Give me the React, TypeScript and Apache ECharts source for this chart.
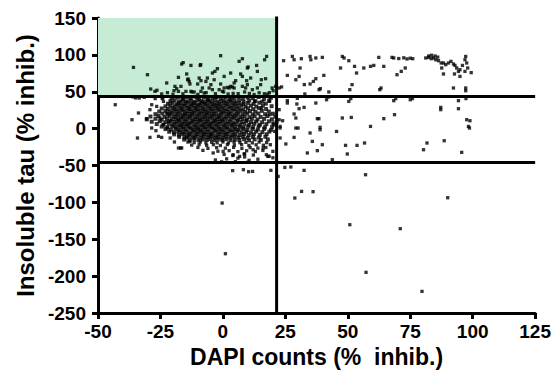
import React, { useEffect, useRef } from "react";
import * as echarts from "echarts";

// Axis ranges and tick settings
const xMin = -50;
const xMax = 125;
const xStep = 25;
const yMin = -250;
const yMax = 150;
const yStep = 50;

// Gate thresholds
const tauHigh = 44;
const tauLow = -46;
const dapiCut = 21.5;
const boxTop = 152;

const xName = "DAPI counts (%  inhib.)";
const yName = "Insoluble tau (% inhib.)";

// Dense cluster of compounds near zero
const coreCluster: number[][] = [
  [-20.5,41.2],[-18,42.5],[-16.2,40.1],[-14.5,42.8],[-12.8,41],[-11,43.2],[-9.5,40.4],[-7.6,42],[-6,39.8],[-4.2,41.7],[-2.5,43],[-0.8,40.6],[1,42.4],[2.7,40],[4.4,41.9],[6.2,43.1],[8,40.5],[9.9,42.2],[12,41],[14.3,42.9],[16.5,40.3],[19.2,41.8],
  [-21,37.2],[-19.3,38.6],[-17.6,36.8],[-16,38.9],[-14.7,37],[-13.1,38.2],[-11.6,36.5],[-10.2,38.7],[-8.7,37.4],[-7.3,36.2],[-5.9,38.5],[-4.4,37],[-3,38.8],[-1.5,36.6],[0.1,38],[1.6,36.9],[3.2,38.6],[4.8,37.1],[6.5,38.3],[8.3,36.4],[10.5,38],[13,37.3],[15.8,36.5],[18.5,38.2],
  [-22,33.8],[-20.2,35],[-18.6,33.2],[-17.1,34.7],[-15.6,33.5],[-14.2,35.1],[-12.8,33.4],[-11.3,34.6],[-9.9,33],[-8.4,34.9],[-7,33.6],[-5.5,35.2],[-4.1,33.3],[-2.6,34.5],[-1.2,33.1],[0.3,34.8],[1.8,33.5],[3.3,35],[4.9,33.7],[6.4,34.4],[8.2,33.2],[10,34.9],[12.3,33.6],[14.6,35.1],[17.2,33.9],
  [-23,30.2],[-21.1,31.4],[-19.4,30],[-17.9,31.6],[-16.4,30.3],[-15,31.1],[-13.5,29.8],[-12.1,31.5],[-10.6,30.4],[-9.2,31.8],[-7.8,29.9],[-6.3,31.2],[-4.9,30.1],[-3.4,31.7],[-2,30.5],[-0.5,29.7],[1,31.3],[2.5,30],[4.1,31.6],[5.6,30.2],[7.3,31.4],[9.1,30],[11.2,31.2],[13.4,29.9],[16,31.1],[19.5,30.4],
  [-24.5,27.3],[-22,26.6],[-20.3,27.9],[-18.7,26.4],[-17.2,27.6],[-15.8,26.2],[-14.3,27.8],[-12.9,26.7],[-11.4,28],[-10,26.5],[-8.6,27.4],[-7.1,26.1],[-5.7,27.7],[-4.2,26.8],[-2.8,28.1],[-1.3,26.3],[0.2,27.5],[1.7,26.2],[3.3,27.9],[4.8,26.6],[6.4,27.3],[8.1,26],[10,27.6],[12.1,26.4],[14.5,27.8],[17.3,26.5],
  [-25.5,23.2],[-23,24.1],[-21.2,22.8],[-19.6,24.3],[-18.1,23],[-16.6,24.6],[-15.2,22.7],[-13.7,24],[-12.3,23.1],[-10.8,24.5],[-9.4,22.9],[-7.9,23.8],[-6.5,22.6],[-5,24.2],[-3.6,23.3],[-2.1,24.7],[-0.7,22.8],[0.8,23.9],[2.4,22.6],[3.9,24.4],[5.5,23],[7.1,24.3],[8.9,22.7],[10.8,23.8],[13,22.9],[15.6,24.1],[18.4,23.2],
  [-27,19.6],[-24.2,20.5],[-22,19.3],[-20.4,20.8],[-18.9,19.5],[-17.4,20.6],[-16,19.1],[-14.5,20.3],[-13.1,19.7],[-11.6,21],[-10.2,19.4],[-8.7,20.5],[-7.3,19.2],[-5.8,20.9],[-4.4,19.6],[-2.9,20.4],[-1.5,19],[0,20.7],[1.5,19.5],[3.1,20.2],[4.6,19.1],[6.2,20.8],[7.9,19.4],[9.8,20.6],[11.9,19.3],[14.2,20.5],[16.9,19.6],[20,20.2],
  [-29,16.4],[-25.8,17.1],[-23.4,16],[-21.3,17.3],[-19.7,15.9],[-18.2,16.8],[-16.8,15.6],[-15.3,17.2],[-13.9,16.1],[-12.4,17.5],[-11,15.8],[-9.5,16.9],[-8.1,15.5],[-6.6,17],[-5.2,16.2],[-3.7,17.4],[-2.3,15.7],[-0.8,16.6],[0.7,15.4],[2.3,17.1],[3.8,16],[5.4,17.3],[7,15.8],[8.7,16.7],[10.6,15.5],[12.7,16.9],[15.1,15.9],[17.8,17],[21,16.2],
  [-30.5,12.6],[-27,13.4],[-24.5,12.2],[-22.4,13.7],[-20.6,12.5],[-19,13.3],[-17.6,12],[-16.1,13.6],[-14.7,12.4],[-13.2,13.9],[-11.8,12.3],[-10.3,13.1],[-8.9,11.9],[-7.4,13.5],[-6,12.7],[-4.5,13.8],[-3.1,12.1],[-1.6,13.2],[-0.1,12],[1.4,13.6],[3,12.5],[4.5,13.9],[6.1,12.2],[7.8,13.3],[9.6,12],[11.6,13.5],[13.9,12.4],[16.5,13.2],[19.6,12.7],
  [-28.5,9.3],[-25.3,10],[-23,8.8],[-21,10.2],[-19.4,9],[-17.9,10.4],[-16.4,8.7],[-15,9.9],[-13.5,8.6],[-12.1,10.1],[-10.6,9.2],[-9.2,10.5],[-7.7,8.9],[-6.3,9.8],[-4.8,8.5],[-3.4,10.3],[-1.9,9.1],[-0.4,10],[1.1,8.7],[2.7,9.6],[4.2,8.4],[5.8,10.2],[7.5,9],[9.3,10.4],[11.2,8.8],[13.3,9.7],[15.7,8.6],[18.4,9.9],[21.5,9.1],
  [-26.5,6.2],[-23.8,5.5],[-21.6,6.7],[-19.9,5.3],[-18.4,6.5],[-16.9,5.1],[-15.5,6.3],[-14,5.6],[-12.6,6.9],[-11.1,5.2],[-9.7,6.1],[-8.2,5],[-6.8,6.6],[-5.3,5.4],[-3.9,6.8],[-2.4,5.7],[-1,6.4],[0.6,5.1],[2.1,6.7],[3.7,5.5],[5.2,6.3],[6.9,5],[8.6,6.5],[10.5,5.3],[12.5,6.6],[14.8,5.2],[17.4,6.1],[20.5,5.6],
  [-24.5,2.8],[-22.2,2],[-20.3,3.2],[-18.7,1.8],[-17.2,3],[-15.8,2.3],[-14.3,3.4],[-12.9,1.7],[-11.4,2.6],[-10,1.5],[-8.5,3.1],[-7.1,2.2],[-5.6,3.3],[-4.2,1.9],[-2.7,2.9],[-1.3,1.6],[0.3,3],[1.8,2.1],[3.4,3.3],[4.9,1.8],[6.6,2.7],[8.3,1.5],[10.1,3],[12.1,2],[14.3,3.2],[16.8,1.9],[19.7,2.6],
  [-23,-0.6],[-20.8,-1.5],[-19,-0.3],[-17.4,-1.7],[-15.9,-0.5],[-14.5,-1.3],[-13,0],[-11.6,-1.6],[-10.1,-0.7],[-8.7,-1.9],[-7.2,-0.4],[-5.8,-1.2],[-4.3,-0.1],[-2.9,-1.8],[-1.4,-0.6],[0.1,-1.4],[1.6,-0.2],[3.2,-1.7],[4.7,-0.8],[6.3,-1.5],[8,-0.3],[9.8,-1.8],[11.8,-0.5],[14,-1.2],[16.5,-0.4],[19.3,-1.6],
  [-21.5,-4.2],[-19.6,-5],[-17.9,-3.8],[-16.4,-5.3],[-14.9,-4.1],[-13.5,-5.5],[-12,-3.9],[-10.6,-4.8],[-9.1,-3.6],[-7.7,-5.2],[-6.2,-4.4],[-4.8,-5.6],[-3.3,-3.7],[-1.9,-4.9],[-0.4,-4],[1.1,-5.4],[2.7,-3.8],[4.2,-4.7],[5.8,-3.5],[7.5,-5.1],[9.3,-4.2],[11.2,-5.5],[13.3,-3.9],[15.8,-4.8],[18.6,-4.1],
  [-19.5,-7.8],[-17.6,-8.5],[-15.9,-7.4],[-14.4,-8.8],[-12.9,-7.6],[-11.4,-9],[-10,-7.3],[-8.5,-8.3],[-7.1,-7.1],[-5.6,-8.7],[-4.2,-7.7],[-2.7,-9.1],[-1.2,-7.5],[0.3,-8.4],[1.8,-7.2],[3.4,-8.9],[4.9,-7.9],[6.6,-8.6],[8.4,-7.4],[10.3,-8.8],[12.4,-7.7],[14.8,-8.4],[17.5,-7.6],
  [-17.5,-11.2],[-15.4,-12],[-13.6,-10.9],[-12,-12.3],[-10.5,-11],[-9,-12.6],[-7.6,-10.8],[-6.1,-11.9],[-4.7,-10.6],[-3.2,-12.2],[-1.7,-11.3],[-0.2,-12.5],[1.3,-10.9],[2.9,-11.8],[4.5,-10.7],[6.2,-12.1],[8,-11],[9.9,-12.4],[12,-11.4],[14.4,-12],[17,-11.1],
  [-15.5,-14.8],[-13.3,-15.6],[-11.4,-14.5],[-9.7,-15.9],[-8,-14.7],[-6.4,-15.3],[-4.9,-14.2],[-3.3,-15.8],[-1.8,-14.6],[-0.2,-15.4],[1.4,-14.3],[3.1,-15.7],[4.8,-14.9],[6.6,-15.5],[8.5,-14.4],[10.5,-15.8],[12.7,-14.7],[15.2,-15.3],[18,-14.6]
];

// Sparser fringe below and left of the cluster
const clusterFringe: number[][] = [
  [-24,42],[-27.5,43.5],[-31.5,42.5],[-33.5,41.5],[-36,43],
  [-14,-18.2],[-11.5,-19],[-9,-18],[-6.8,-19.4],[-4.5,-18.5],[-2.3,-19.2],[0,-18.1],[2.2,-19.5],[4.5,-18.3],[6.8,-19.1],[9.2,-18.6],[11.8,-19.3],[14.5,-18.2],[17.5,-19],
  [-12.5,-22.3],[-9.5,-21.5],[-6.5,-22.6],[-3.8,-21.8],[-1,-22.9],[1.8,-21.6],[4.6,-22.4],[7.5,-21.7],[10.4,-22.8],[13.3,-21.9],[16.2,-22.5],[19,-21.8],
  [-16.5,-26.2],[-10,-25.5],[-6,-26.8],[-2.5,-25.8],[1,-26.5],[4.3,-25.4],[7.6,-26.9],[10.9,-25.7],[14,-26.4],[17.2,-25.6],
  [-8,-29.5],[-2,-30.6],[2.5,-29.8],[6,-31.2],[9.5,-30],[13,-31],[16,-29.6],[20,-30.8],
  [0.5,-35],[4,-36.5],[8.5,-34.2],[12.2,-35.8],[18.5,-37.4],[-3.9,-33],[0.1,-30.9],[4.1,-35.4],[6.7,-37.7],[8.7,-34.4],[12.1,-28.6],[16.1,-26.3],[17.4,-35.4],[18,-37.7],
  [-3,-42.5],[1.5,-41],[6,-40],[10.5,-43],[14,-41.5],[20,-39.5],[8.7,-38.4],[-0.5,-45],[5,-44.8],[10,-45.5],
  [-17.8,-26.3],[-14.5,-12.7],[-13.2,-17.3],[18.7,18.9],[20,7.6],[20.7,-3.8],[12.7,36.9],[15.4,27.9],[18.7,36.9]
];

const leftTail: number[][] = [
  [-43.1,32.4],[-36.4,12.1],[-33.8,21.2],[-34.2,-12.7],[-29.2,25.7],[-30.5,13.5],[-28.5,0.8],[-26.8,-2.8],[-29.2,-11.9],
  [-25.8,-10.5],[-24.5,-11.9],[-28.5,32.4],[-26.5,30.1],[-23.8,36.9],[-25.2,14.4],[-23.8,5.3],[-22.5,21.2],[-21.8,9.8],[-22.2,0.8],
  [-34.9,41.6],[-27.1,40.7],[-24.3,40.7],[-21.1,-12.7],[-19.4,-18.1],[-16.9,-26.2]
];

// Hits inside the highlighted gate (upper left)
const gateHits: number[][] = [
  [-35.8,83],[-30.2,73.1],[-28.9,53.7],[-27.2,50.5],[-22.5,61.9],[-17.8,69.5],[-16.5,87.6],[-14.5,74.1],[-13.9,67.3],
  [-19.2,57.3],[-18.5,54.1],[-19.6,51.4],[-17.8,50.5],[-16.8,57.3],[-14.8,50.5],[-13.2,60.5],
  [-0.9,98.9],[6.5,91.2],[7.8,94.8],[17.5,97.9],[16.7,93.4],[-12.8,85.7],[-9.1,85.7],[-2.2,81.3],[-3.2,77.6],[-4.2,75.4],
  [9.8,82.2],[13.5,85.7],[13.8,77.6],[3.1,75.4],[7.1,74.1],[7.8,70.8],[0.5,70.8],[-6.2,68.6],[-6.8,64],[-3.5,66.3],
  [-9.5,68.6],[-8.8,65],[-10.1,60.5],[-14.1,66.3],[-13.5,64],[11.1,68.6],[9.5,65],[17.1,67.7],[15.4,66.3],[4.5,61.9],[5.1,65],
  [-0.9,60.5],[3.1,57.3],[4.5,55.1],[2.5,55.1],[1.8,55.9],[3.8,56.4],[-4.8,59.6],[-5.5,55.1],[-4.2,52.8],[-8.2,55.1],[-8.8,50.5],[-7.5,48.3],
  [-1.5,52.8],[-0.2,50.5],[0.5,55.1],[7.8,57.3],[9.1,55.1],[9.8,59.6],[11.8,52.8],[15.1,59.6],[13.8,55.1],[19.7,55.1],[21.1,57.3],[20.1,51.4],
  [-12.8,50.5],[-11.5,49.7],[6.1,47.5],[4.1,47.8],[2.1,47],[10.6,47.6],[16.6,47.3],[17.9,46.8],[-22.2,48.8],[-12.4,49.7],[-6.7,48.8],
  [0.3,49.7],[8.7,49.7],[18.6,48.8],[-24.5,47],[-20,46.5],[-16,47.2],[-10,46.4],[-3,47.4],[12.5,46.2],[14.5,48.6],[-26.4,52],[-15.9,89.5],[-8.9,86.8],[10.1,83.6]
];

// Compounds that inhibit DAPI counts above the cut
const upperRight: number[][] = [
  [24.3,92.1],[27.8,97.9],[28.5,93.4],[31.4,94.8],[34.9,97.9],[35.2,93.4],[37.2,95.8],[39.8,96.6],[30.9,82.2],[25.8,72.2],
  [29.2,66.3],[30.5,70.8],[34.9,60.5],[36.2,64],[37.2,67.7],[40.4,72.2],[38.5,52.8],[32.8,47],[22.5,55.1],[23.5,56.5],
  [47.8,97.9],[48.5,95.8],[50.4,92.1],[47.1,82.2],[52.7,84.4],[53.5,75.4],[56.4,82.2],[59.1,84.4],[60.4,85.7],[62.4,96.6],
  [64.4,84.4],[67.7,96.6],[51.7,59.6],[50.8,52.8],[62.8,52.8],[42.4,49.7],[39,54.2],[32.6,59.7],
  [68.4,95.8],[70.4,95],[72.4,96],[73.7,94.5],[75,95.5],[76,94.8],[73,82.2],[71.4,77.6],[69.7,73.1],
  [81.2,95.8],[82.3,96.6],[83.4,94.8],[84.3,95.8],[85.2,93.4],[86.3,92.1],[87.4,89],[88.3,89],[89.2,86.7],[90.3,89],
  [91.3,91.2],[92.3,87.6],[92.9,85.7],[93.6,82.2],[94.3,77.6],[94.9,79.9],[95.9,85.7],[96.9,93.4],[97.2,97.9],[97.6,89],
  [98,82.2],[96.9,77.6],[87.6,82.2],[88.3,74.1],[92.7,74.1],[94.9,70.8],[92.3,55.1],[97.2,55.1],[97.2,51.4],
  [82.4,98.5],[84.9,98.5],[86,97],[83.5,99.5],[63.3,55.1],[99.4,75.9]
];

const middleRight: number[][] = [
  [25.8,34.7],[29.6,33.4],[30.5,27],[32.5,28.8],[28.5,19.8],[29.2,14.4],[37.2,34.7],[41.5,39.2],[50.4,36.9],[68.4,37.9],
  [75,39.2],[94.3,37.9],[87.2,28.8],[87.2,25.7],[94.3,27],[37.8,13.5],[38.4,13.5],[38.9,1.7],[38.9,-1.5],[22.5,12.1],
  [22.9,3],[22.9,0.8],[23.9,10.7],[29.2,0.8],[30.1,0.8],[34.9,-5.9],[28.5,-11.9],[22.9,-12.7],[25.2,-20.8],[35.8,-17.3],
  [39.8,-21.8],[33.8,-33],[37.8,-29.9],[43.8,-42.1],[45.5,-3.8],[47.8,14.4],[51.4,15.2],[49.1,-22.7],[49.8,-34.4],[53.7,-22.7],
  [56.7,-19.5],[59.1,3],[64.4,13.5],[68.7,18.9],[80.3,-28.6],[81.7,-19.5],[88.6,-16.4],[95.6,-32.2],[97.6,12.1],[98.9,10.7],
  [98.3,3],[98.7,0.8],[22.5,25.7],[25.8,38],[29.8,41],[42.4,42.9],[51.2,40.7],[69.2,40.7],[75.9,40.7],[97.3,40.7]
];

// Strong reductions of insoluble tau below the lower cut
const belowGate: number[][] = [
  [3.9,-57],[8.2,-55.7],[10.3,-58.4],[11.9,-58],[19.2,-56.6],[22.1,-64.8],[24.8,-52.6],[27.2,-52],[32.5,-56.6],[57.1,-62.5],
  [-0.3,-100.9],[1,-169.6],[28.8,-94.1],[31.5,-85.1],[36.1,-85.5],[50.8,-130.3],[71,-135.7],[90,-93.7],[57.3,-194.9],[79.7,-220.7]
];

const sparsePoints = [
  ...clusterFringe,
  ...leftTail,
  ...gateHits,
  ...upperRight,
  ...middleRight,
  ...belowGate,
];

const FONT = "'Liberation Sans', Arial, Helvetica, sans-serif";

export default function App() {
  const ref = useRef<HTMLDivElement>(null);

  useEffect(() => {
    if (!ref.current) return;
    const chart = echarts.init(ref.current, undefined, { renderer: "svg" });
    const axisLine = { show: true, onZero: false, lineStyle: { color: "#000", width: 3 } };
    const axisTick = { show: true, length: 6, lineStyle: { color: "#000", width: 3 } };
    const labelStyle = { color: "#000", fontSize: 19, fontWeight: "bold" as const, fontFamily: FONT };
    chart.setOption({
      animation: false,
      backgroundColor: "#fff",
      grid: { left: 98, right: 17, top: 18, bottom: 69, containLabel: false },
      xAxis: {
        type: "value",
        min: xMin,
        max: xMax,
        interval: xStep,
        axisLine,
        axisTick,
        splitLine: { show: false },
        axisLabel: { ...labelStyle, margin: 9 },
        name: xName,
        nameLocation: "middle",
        nameGap: 29,
        nameTextStyle: { color: "#000", fontSize: 23, fontWeight: "bold", fontFamily: FONT },
      },
      yAxis: {
        type: "value",
        min: yMin,
        max: yMax,
        interval: yStep,
        axisLine,
        axisTick,
        splitLine: { show: false },
        axisLabel: { ...labelStyle, margin: 12 },
        name: yName,
        nameLocation: "middle",
        nameGap: 61,
        nameRotate: 90,
        nameTextStyle: { color: "#000", fontSize: 24, fontWeight: "bold", fontFamily: FONT },
      },
      series: [
        {
          type: "scatter",
          data: coreCluster,
          symbol: "rect",
          symbolSize: 4,
          clip: false,
          itemStyle: { color: "#000" },
          markArea: {
            silent: true,
            itemStyle: { color: "#c6ecd6" },
            data: [[{ coord: [xMin, tauHigh] }, { coord: [dapiCut, boxTop] }]],
          },
          markLine: {
            silent: true,
            symbol: ["none", "none"],
            label: { show: false },
            lineStyle: { color: "#000", width: 3, type: "solid" },
            data: [
              [{ coord: [xMin, tauHigh] }, { coord: [xMax, tauHigh] }],
              [{ coord: [xMin, tauLow] }, { coord: [xMax, tauLow] }],
            ],
          },
        },
        {
          type: "scatter",
          data: sparsePoints,
          symbol: "rect",
          symbolSize: 3.3,
          clip: false,
          itemStyle: { color: "#000" },
        },
        {
          type: "line",
          data: [[dapiCut, yMin], [dapiCut, boxTop]],
          symbol: "none",
          clip: false,
          silent: true,
          z: 3,
          lineStyle: { color: "#000", width: 3 },
        },
      ],
    });
    return () => chart.dispose();
  }, []);

  return <div ref={ref} style={{ width: 554, height: 382, position: "absolute", left: 0, top: 0 }} />;
}
